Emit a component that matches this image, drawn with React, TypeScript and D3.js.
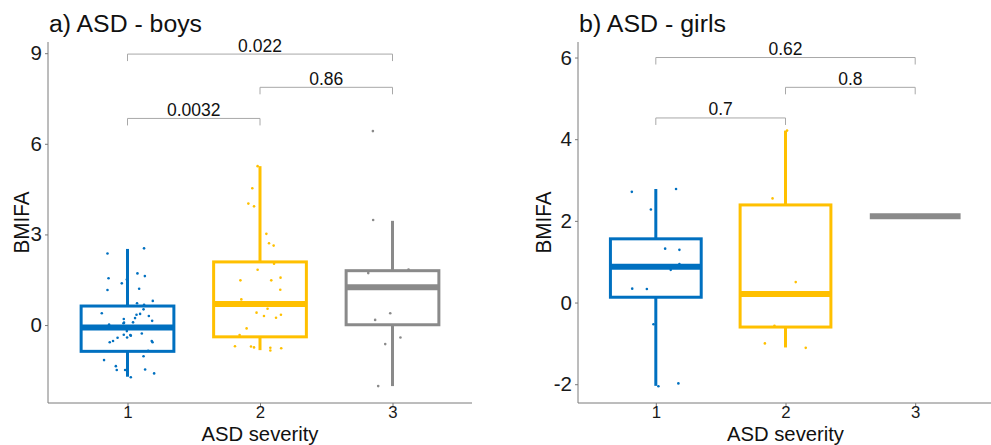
import { useEffect, useRef } from "react";
import * as d3 from "d3";

type T_Point = [number, number]; // [jitter offset in category units, BMIFA]

const severities = ["1", "2", "3"];
const colors = ["#0070C0", "#FFC000", "#8A8A8A"];

// boys: box statistics per severity
const boysLow = [-1.71, -0.83, -2.02];
const boysQ1 = [-0.87, -0.39, 0.01];
const boysMed = [-0.08, 0.7, 1.25];
const boysQ3 = [0.63, 2.09, 1.8];
const boysHigh = [2.52, 5.26, 3.45];

// girls: box statistics per severity
const girlsLow = [-2.04, -1.1, 2.11];
const girlsQ1 = [0.13, -0.6, 2.11];
const girlsMed = [0.875, 0.21, 2.11];
const girlsQ3 = [1.56, 2.39, 2.11];
const girlsHigh = [2.78, 4.21, 2.11];

const boysPts1: T_Point[] = [
  [-0.151, 2.37], [0.125, 2.54], [-0.143, 1.55], [-0.005, 1.51], [0.075, 1.71],
  [0.131, 1.62], [-0.043, 1.38], [-0.151, 1.16], [0.088, 1.2], [0.191, 0.8],
  [0.072, 0.72], [0.121, 0.52], [-0.194, 0.39], [0.068, 0.34], [0.161, 0.3],
  [-0.028, 0.2], [0.057, 0.23], [0.186, 0.14], [-0.03, 0.06], [0.042, 0.09],
  [-0.139, 0.02], [-0.005, -0.2], [0.025, -0.35], [-0.028, -0.32], [-0.003, -0.41],
  [-0.075, -0.42], [-0.109, -0.53], [-0.134, -0.57], [0.108, -0.28], [0.183, -0.53],
  [0.189, -0.57], [0.156, -0.85], [0.121, -1.03], [-0.177, -1.16], [-0.088, -1.36],
  [-0.081, -1.49], [-0.018, -1.49], [0.133, -1.47], [0.201, -1.6], [0.025, -1.73],
  [0.095, 0.37], [-0.026, 0.08], [0.125, 0.67], [0.021, -0.33],
];
const boysPts2: T_Point[] = [
  [-0.018, 5.26], [-0.058, 4.53], [-0.088, 4.02], [-0.045, 3.93], [0.048, 3.02],
  [0.068, 2.71], [0.103, 2.63], [0.106, 2.03], [-0.018, 1.83], [-0.148, 1.48],
  [0.085, 1.48], [0.155, 1.57], [0.153, 1.17], [-0.141, 0.85], [0.057, 0.54],
  [-0.026, 0.41], [0.03, 0.3], [0.121, 0.24], [0.158, 0.34], [-0.101, -0.11],
  [-0.154, -0.33], [-0.189, -0.7], [-0.068, -0.71], [-0.045, -0.74], [0.078, -0.75],
  [0.078, -0.84], [0.16, -0.77],
];
const boysPts3: T_Point[] = [
  [-0.148, 6.42], [-0.146, 3.48], [-0.183, 1.72], [0.121, 1.84], [-0.017, 0.39],
  [-0.131, 0.17], [0.06, -0.41], [-0.055, -0.63], [-0.108, -2.02],
];

const girlsPts1: T_Point[] = [
  [-0.185, 2.71], [0.156, 2.78], [-0.038, 2.28], [0.072, 1.32], [0.182, 1.29],
  [0.182, 0.94], [0.115, 0.8], [-0.182, 0.34], [-0.069, 0.33], [-0.018, -0.53],
  [0.02, -2.05], [0.174, -1.98],
];
const girlsPts2: T_Point[] = [
  [0.012, 4.21], [-0.1, 2.55], [0.079, 0.5], [-0.085, -0.57], [-0.159, -1.0],
  [0.156, -1.11],
];
const girlsPts3: T_Point[] = [[0, 2.11]];

// pairwise comparisons: [from, to], bracket height, label
const boysPairs = [["1", "2"], ["2", "3"], ["1", "3"]];
const boysBracketY = [6.84, 7.87, 8.97];
const boysPvals = ["0.0032", "0.86", "0.022"];
const girlsPairs = [["1", "2"], ["2", "3"], ["1", "3"]];
const girlsBracketY = [4.52, 5.27, 6.0];
const girlsPvals = ["0.7", "0.8", "0.62"];

const boysTicks = [0, 3, 6, 9];
const girlsTicks = [-2, 0, 2, 4, 6];

interface I_Panel {
  title: string;
  titleWidth: number;
  left: number;
  right: number;
  yDomain: [number, number];
  yTicks: number[];
  low: number[];
  q1: number[];
  med: number[];
  q3: number[];
  high: number[];
  points: T_Point[][];
  pairs: string[][];
  bracketY: number[];
  pvals: string[];
  yTitleX: number;
}

const FONT = "'Liberation Sans', Arial, Helvetica, sans-serif";

export default function App() {
  const svgRef = useRef<SVGSVGElement>(null);

  useEffect(() => {
    if (!svgRef.current) return;
    const svg = d3.select(svgRef.current);
    svg.selectAll("*").remove();

    const top = 42;
    const bottom = 403;

    const drawPanel = (p: I_Panel) => {
      const x = d3.scalePoint<string>().domain(severities).range([p.left, p.right]).padding(0.6);
      const y = d3.scaleLinear().domain(p.yDomain).range([bottom, top]);
      const step = x.step();
      const boxW = step * 0.7;
      const g = svg.append("g");

      // title
      g.append("text")
        .attr("x", p.left + 1)
        .attr("y", 32)
        .attr("font-size", 23)
        .attr("font-family", FONT)
        .attr("fill", "#111")
        .attr("textLength", p.titleWidth)
        .attr("lengthAdjust", "spacingAndGlyphs")
        .text(p.title);

      // y axis
      const yAxis = g
        .append("g")
        .attr("transform", `translate(${p.left},0)`)
        .call(
          d3.axisLeft(y).tickValues(p.yTicks).tickSize(3).tickSizeOuter(0).tickPadding(3)
            .tickFormat((d) => String(d)),
        );
      yAxis.select(".domain").attr("stroke", "#7a7a7a").attr("d", `M0,${top}V${bottom}`);
      yAxis.selectAll(".tick line").attr("stroke", "#7a7a7a");
      yAxis.selectAll(".tick text").attr("font-size", 20.5).attr("font-family", FONT).attr("fill", "#1a1a1a");

      // x axis
      const xAxis = g
        .append("g")
        .attr("transform", `translate(0,${bottom})`)
        .call(d3.axisBottom(x).tickSize(3).tickSizeOuter(0).tickPadding(0));
      xAxis.select(".domain").attr("stroke", "#7a7a7a").attr("d", `M${p.left},0H${p.right}`);
      xAxis.selectAll(".tick line").attr("stroke", "#7a7a7a");
      xAxis.selectAll(".tick text").attr("font-size", 16.8).attr("font-family", FONT).attr("fill", "#1a1a1a");

      // axis titles
      g.append("text")
        .attr("x", (p.left + p.right) / 2)
        .attr("y", 440.5)
        .attr("text-anchor", "middle")
        .attr("font-size", 20.8)
        .attr("font-family", FONT)
        .attr("fill", "#111")
        .attr("textLength", 117)
        .attr("lengthAdjust", "spacingAndGlyphs")
        .text("ASD severity");
      g.append("text")
        .attr("transform", `translate(${p.yTitleX},${(top + bottom) / 2}) rotate(-90)`)
        .attr("text-anchor", "middle")
        .attr("dy", "0.35em")
        .attr("font-size", 22.5)
        .attr("font-family", FONT)
        .attr("fill", "#111")
        .attr("textLength", 62)
        .attr("lengthAdjust", "spacingAndGlyphs")
        .text("BMIFA");

      // boxes
      severities.forEach((s, i) => {
        const cx = x(s)!;
        const col = colors[i];
        const b = g.append("g");
        if (p.q3[i] > p.q1[i]) {
          b.append("line")
            .attr("x1", cx).attr("x2", cx)
            .attr("y1", y(p.q3[i])).attr("y2", y(p.high[i]))
            .attr("stroke", col).attr("stroke-width", 3);
          b.append("line")
            .attr("x1", cx).attr("x2", cx)
            .attr("y1", y(p.q1[i])).attr("y2", y(p.low[i]))
            .attr("stroke", col).attr("stroke-width", 3);
          b.append("rect")
            .attr("x", cx - boxW / 2)
            .attr("y", y(p.q3[i]))
            .attr("width", boxW)
            .attr("height", y(p.q1[i]) - y(p.q3[i]))
            .attr("fill", "white")
            .attr("stroke", col)
            .attr("stroke-width", 3);
        }
        b.append("line")
          .attr("x1", cx - boxW / 2).attr("x2", cx + boxW / 2)
          .attr("y1", y(p.med[i])).attr("y2", y(p.med[i]))
          .attr("stroke", col).attr("stroke-width", 6);

        // jittered points
        g.append("g")
          .selectAll("circle")
          .data(p.points[i])
          .enter()
          .append("circle")
          .attr("cx", (d) => cx + d[0] * step)
          .attr("cy", (d) => y(d[1]))
          .attr("r", 1.3)
          .attr("fill", col);
      });

      // significance brackets
      p.pairs.forEach((pair, i) => {
        const x1 = x(pair[0])!;
        const x2 = x(pair[1])!;
        const by = y(p.bracketY[i]);
        g.append("path")
          .attr("d", `M${x1},${by + 7}V${by}H${x2}V${by + 7}`)
          .attr("fill", "none")
          .attr("stroke", "#a8a8a8")
          .attr("stroke-width", 1);
        g.append("text")
          .attr("x", (x1 + x2) / 2)
          .attr("y", by - 2.5)
          .attr("text-anchor", "middle")
          .attr("font-size", 17.5)
          .attr("font-family", FONT)
          .attr("fill", "#111")
          .text(p.pvals[i]);
      });
    };

    drawPanel({
      title: "a) ASD - boys",
      titleWidth: 153,
      left: 48,
      right: 472,
      yDomain: [-2.58, 9.37],
      yTicks: boysTicks,
      low: boysLow,
      q1: boysQ1,
      med: boysMed,
      q3: boysQ3,
      high: boysHigh,
      points: [boysPts1, boysPts2, boysPts3],
      pairs: boysPairs,
      bracketY: boysBracketY,
      pvals: boysPvals,
      yTitleX: 21,
    });

    drawPanel({
      title: "b) ASD - girls",
      titleWidth: 147,
      left: 578,
      right: 993,
      yDomain: [-2.46, 6.38],
      yTicks: girlsTicks,
      low: girlsLow,
      q1: girlsQ1,
      med: girlsMed,
      q3: girlsQ3,
      high: girlsHigh,
      points: [girlsPts1, girlsPts2, girlsPts3],
      pairs: girlsPairs,
      bracketY: girlsBracketY,
      pvals: girlsPvals,
      yTitleX: 543,
    });
  }, []);

  return (
    <svg
      ref={svgRef}
      width={991}
      height={445}
      style={{ position: "absolute", left: 0, top: 0, background: "white" }}
    />
  );
}
